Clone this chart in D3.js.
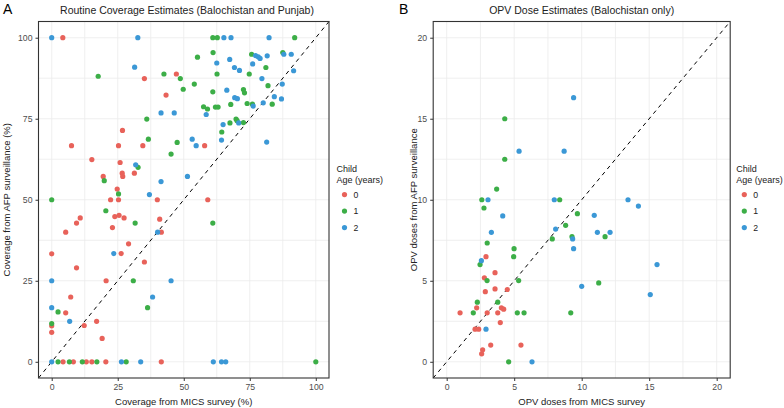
<!DOCTYPE html>
<html>
<head>
<meta charset="utf-8">
<script src="https://cdn.jsdelivr.net/npm/d3@7"></script>
<style>
  body { margin: 0; background: #fff; }
  text { font-family: "Liberation Sans", Arial, sans-serif; }
</style>
</head>
<body>
<script>
// ---- data: panel A, coverage (%) [MICS, AFP] per child age
let covAge0 = [[4.2,100],[35.1,87.4],[47.2,88.8],[43.3,82.3],[26.8,71.4],[7.5,66.7],[25.3,66.7],[34.5,66.7],
  [15.2,62.4],[25.9,61.5],[26.7,58.2],[26.9,57.2],[31.3,58.2],[19.5,57.2],[24.8,53.3],[22.3,50],[25.3,50],[40,50],
  [5.3,40],[9.4,42.8],[10.8,44.4],[23,41.4],[23.9,44.8],[25.5,45.2],[27.4,44.4],[40.9,44],[41.5,40],[29.1,36.4],
  [0,33.3],[26.3,33.4],[35.1,30.8],[9.4,29],[20.6,25],[7.2,20],[5.3,15.1],[17,12.5],[0,11.1],[12.3,11.2],[0,9.1],
  [19.1,7.2],[4.3,0],[8.2,0],[13.1,0],[15.2,0],[20.5,0],[41.5,0],[57.9,66.7],[59.1,50]];
let covAge1 = [[55.2,94],[17.6,88.1],[42.5,88.8],[48.7,87.4],[49.8,84.1],[54,85.7],[36,74.9],[36.6,68.7],[47.5,67.7],
  [45.2,64.1],[32.7,60],[19.9,55.9],[25.3,51.8],[0,50],[20.5,46.6],[31.6,42.8],[30.9,25],[36.3,16.7],[2.4,15.4],
  [0,11.8],[2.4,0],[6.7,0],[11.6,0],[17.1,0],[28.2,0],[61,42.8],[100,0],[61,100],[62.7,100],[92,100],[61.1,95.4],
  [75.7,94.9],[87.5,95.4],[81.1,90.8],[62.6,88.8],[74.8,88.8],[81.9,85.2],[61,83.3],[72.6,84],[73,83],[74,79.7],
  [57.5,78.7],[59,78],[62,78.6],[63,78.6],[67.8,79.4],[76,79.5],[83.5,79.5],[69.8,74.9],[70.2,74.4],[67.5,73.7],
  [72.6,73.8],[64.4,70.9]];
let covAge2 = [[0,100],[32.6,100],[31.4,90.9],[41.4,76.8],[46.4,76.8],[53.2,68.7],[54.7,66.7],[31.8,60.8],[51.4,57.2],
  [41.4,55.6],[37,51.6],[40.1,40],[23.5,33.4],[0,25],[45.2,25],[38.2,20],[0,16.7],[6.8,12.5],[0,0],[26.4,0],[33.7,0],
  [61.2,0],[64.3,0],[65.9,0],[65.2,100],[67.9,100],[82.3,100],[77.2,94.5],[78.2,94.1],[78.9,93.6],[81.6,94.4],
  [87.9,94.9],[90.7,94.9],[91.6,89.8],[62.5,92.2],[67.4,93.3],[76.1,91.9],[69.2,90.8],[71.1,89.9],[79.6,87.4],
  [87.3,85.7],[66.3,83.8],[69.3,81.5],[70.3,81.2],[84.3,81.8],[87,81.1],[76.3,78.9],[80.1,79.9],[58.5,76.3],
  [70.8,73.7],[64.9,73.2],[64.3,68.4],[81.4,67.8]];

// ---- data: panel B, OPV doses [MICS, AFP] per child age
let opvAge0 = [[2.91,6.49],[2.79,5.18],[3.58,5.5],[2.86,4.33],[3.58,4.5],[4.49,4.46],[2.22,3.33],[4.05,3.33],[4.22,3.25],
  [0.99,3.02],[3.0,3.02],[3.78,3.02],[3.97,2.42],[2.1,2.01],[2.37,2.01],[3.26,1.03],[5.5,1.03],[2.66,0.74],[2.59,0.49]];
let opvAge1 = [[4.3,15],[4.3,12.5],[3.7,10.66],[2.6,10],[8.37,10],[2.76,9.49],[9.68,9.14],[8.81,8.42],[9.28,7.72],
  [7.82,7.58],[3.0,7.33],[4.99,6.98],[4.96,6.49],[2.47,6.0],[2.99,5.01],[5.33,5.01],[2.27,3.68],[3.78,3.68],
  [1.97,3.02],[5.23,3.02],[5.73,3.02],[9.19,3.02],[4.59,0],[11.73,7.72],[11.26,4.87]];
let opvAge2 = [[9.4,16.3],[5.36,13],[8.7,13],[3.06,10],[7.97,10],[4.15,9.0],[8.07,8.19],[3.31,7.99],[9.33,7.58],
  [9.4,6.98],[2.57,6.24],[10.0,4.66],[2.91,2.01],[6.32,0],[13.43,10],[14.2,9.61],[10.93,9.04],[11.16,7.99],
  [12.1,7.99],[15.58,6.0],[15.08,4.15]];

let ageLabels = ["0", "1", "2"];
let ageColors = ["#e8625a", "#3cae47", "#3b98d6"];
let covTicks = [0, 25, 50, 75, 100];
let opvTicks = [0, 5, 10, 15, 20];

let svg = d3.select("body").append("svg")
    .attr("width", 784)
    .attr("height", 408);

function drawPanel(cfg) {
  let x = d3.scaleLinear().domain(cfg.domain).range([cfg.left, cfg.right]);
  let y = d3.scaleLinear().domain(cfg.domain).range([378, 21.5]);
  let g = svg.append("g");

  // panel background + grid (major and minor)
  g.append("rect")
      .attr("x", cfg.left).attr("y", 21.5)
      .attr("width", cfg.right - cfg.left).attr("height", 378 - 21.5)
      .attr("fill", "#fff");
  let step = cfg.ticks[1] - cfg.ticks[0];
  let gridVals = d3.range(cfg.ticks[0], cfg.ticks[cfg.ticks.length - 1] + step / 4, step / 2);
  g.selectAll(".gx").data(gridVals).enter().append("line")
      .attr("x1", d => x(d)).attr("x2", d => x(d))
      .attr("y1", 21.5).attr("y2", 378)
      .attr("stroke", "#ebebeb").attr("stroke-width", 0.8);
  g.selectAll(".gy").data(gridVals).enter().append("line")
      .attr("x1", cfg.left).attr("x2", cfg.right)
      .attr("y1", d => y(d)).attr("y2", d => y(d))
      .attr("stroke", "#ebebeb").attr("stroke-width", 0.8);

  // axes
  let xAxis = d3.axisBottom(x).tickValues(cfg.ticks).tickSize(3).tickPadding(3);
  let yAxis = d3.axisLeft(y).tickValues(cfg.ticks).tickSize(3).tickPadding(3);
  let gx = g.append("g").attr("transform", "translate(0,378)").call(xAxis);
  let gy = g.append("g").attr("transform", "translate(" + cfg.left + ",0)").call(yAxis);
  [gx, gy].forEach(a => {
    a.select(".domain").remove();
    a.selectAll(".tick line").attr("stroke", "#333");
    a.selectAll(".tick text").attr("fill", "#4d4d4d").style("font-size", "8.7px")
      .style("font-family", "'Liberation Sans', Arial, sans-serif");
  });

  // identity line
  g.append("line")
      .attr("x1", x(cfg.domain[0])).attr("y1", y(cfg.domain[0]))
      .attr("x2", x(cfg.domain[1])).attr("y2", y(cfg.domain[1]))
      .attr("stroke", "#000").attr("stroke-width", 1)
      .attr("stroke-dasharray", "4,4");

  // points
  cfg.series.forEach((s, i) => {
    g.selectAll(".p" + i).data(s).enter().append("circle")
        .attr("cx", d => x(d[0])).attr("cy", d => y(d[1]))
        .attr("r", 2.6)
        .attr("fill", ageColors[i]);
  });

  // border
  g.append("rect")
      .attr("x", cfg.left).attr("y", 21.5)
      .attr("width", cfg.right - cfg.left).attr("height", 378 - 21.5)
      .attr("fill", "none").attr("stroke", "#333").attr("stroke-width", 1.1);

  // titles
  g.append("text").attr("x", cfg.tagX).attr("y", 14)
      .style("font-size", "14px").attr("fill", "#000").text(cfg.tag);
  g.append("text").attr("x", cfg.titleX).attr("y", 14)
      .attr("text-anchor", "middle").style("font-size", "10.5px").attr("fill", "#222")
      .text(cfg.title);
  g.append("text").attr("x", (cfg.left + cfg.right) / 2).attr("y", 405)
      .attr("text-anchor", "middle").style("font-size", "9.5px").attr("fill", "#222")
      .text(cfg.xTitle);
  g.append("text")
      .attr("transform", "translate(" + cfg.yTitleX + "," + (21.5 + 378) / 2 + ") rotate(-90)")
      .attr("text-anchor", "middle").style("font-size", "9.5px").attr("fill", "#222")
      .text(cfg.yTitle);

  // legend
  let lg = g.append("g");
  lg.append("text").attr("x", cfg.legX).attr("y", 172).style("font-size", "9px").attr("fill", "#222").text("Child");
  lg.append("text").attr("x", cfg.legX).attr("y", 183).style("font-size", "9px").attr("fill", "#222").text("Age (years)");
  ageLabels.forEach((lab, i) => {
    lg.append("circle").attr("cx", cfg.legX + 8).attr("cy", 194.6 + i * 16.5).attr("r", 2.6).attr("fill", ageColors[i]);
    lg.append("text").attr("x", cfg.legX + 17).attr("y", 194.6 + i * 16.5 + 3.2)
      .style("font-size", "8.7px").attr("fill", "#222").text(lab);
  });
}

drawPanel({
  left: 38.5, right: 329, domain: [-5, 105], ticks: covTicks,
  series: [covAge0, covAge1, covAge2],
  tag: "A", tagX: 3, title: "Routine Coverage Estimates (Balochistan and Punjab)", titleX: 187,
  xTitle: "Coverage from MICS survey (%)", yTitle: "Coverage from AFP surveillance (%)", yTitleX: 10,
  legX: 336.5
});

drawPanel({
  left: 433.2, right: 730.2, domain: [-1, 21], ticks: opvTicks,
  series: [opvAge0, opvAge1, opvAge2],
  tag: "B", tagX: 399, title: "OPV Dose Estimates (Balochistan only)", titleX: 581.7,
  xTitle: "OPV doses from MICS survey", yTitle: "OPV doses from AFP surveillance", yTitleX: 417,
  legX: 736.3
});
</script>
</body>
</html>
